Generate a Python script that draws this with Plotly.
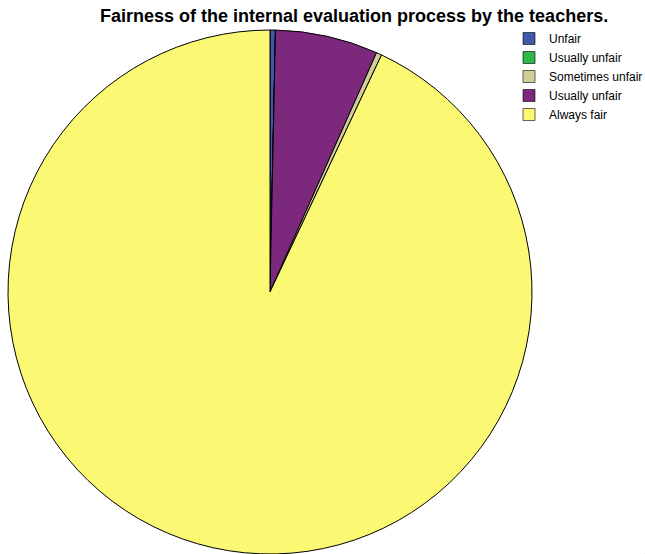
import plotly.graph_objects as go

labels = ["Unfair", "Usually unfair", "Sometimes unfair", "Usually unfair ", "Always fair"]
values = [1, 0, 1, 19, 279]
colors = ["#3E58AC", "#2EB848", "#D3CE97", "#7C287D", "#FBF873"]
# order in which the slices are drawn clockwise from 12 o'clock (indices into the lists above)
slice_order = [0, 1, 3, 2, 4]
title_text = "Fairness of the internal evaluation process by the teachers."

W, H = 645, 554
cx, cy, r = 270, 292, 262

fig = go.Figure()
# visible pie, slices in drawing order
fig.add_trace(go.Pie(
    labels=[labels[i] for i in slice_order],
    values=[values[i] for i in slice_order],
    sort=False,
    direction="clockwise",
    rotation=0,
    textinfo="none",
    hoverinfo="label+value+percent",
    marker=dict(colors=[colors[i] for i in slice_order], line=dict(color="#000000", width=1)),
    domain=dict(x=[(cx - r) / W, (cx + r) / W], y=[(H - cy - r) / H, (H - cy + r) / H]),
    showlegend=False,
))
# legend carrier (negligible size), in legend order
fig.add_trace(go.Pie(
    labels=labels,
    values=values,
    sort=False,
    textinfo="none",
    hoverinfo="skip",
    marker=dict(colors=colors, line=dict(color="#000000", width=0.6)),
    domain=dict(x=[0.9995, 1.0], y=[0.0, 0.00005]),
    showlegend=True,
))

fig.update_layout(
    width=W, height=H,
    margin=dict(l=0, r=0, t=0, b=0, autoexpand=False),
    paper_bgcolor="white",
    plot_bgcolor="white",
    legend=dict(
        x=509 / W, xanchor="left", y=1 - 24 / H, yanchor="top",
        font=dict(family="Liberation Sans, Arial, sans-serif", size=12, color="#000000"),
        bgcolor="rgba(0,0,0,0)",
        itemwidth=30,
        tracegroupgap=0,
    ),
    annotations=[dict(
        text="<b>" + title_text + "</b>",
        xref="paper", yref="paper", x=354 / W, y=1 - 16 / H,
        xanchor="center", yanchor="middle", showarrow=False,
        font=dict(family="Liberation Sans, Arial, sans-serif", size=18, color="#000000"),
    )],
)

fig.write_html(
    "out.html",
    config={"displayModeBar": False},
    post_script="document.body.style.margin='0';document.body.style.overflow='hidden';",
)
